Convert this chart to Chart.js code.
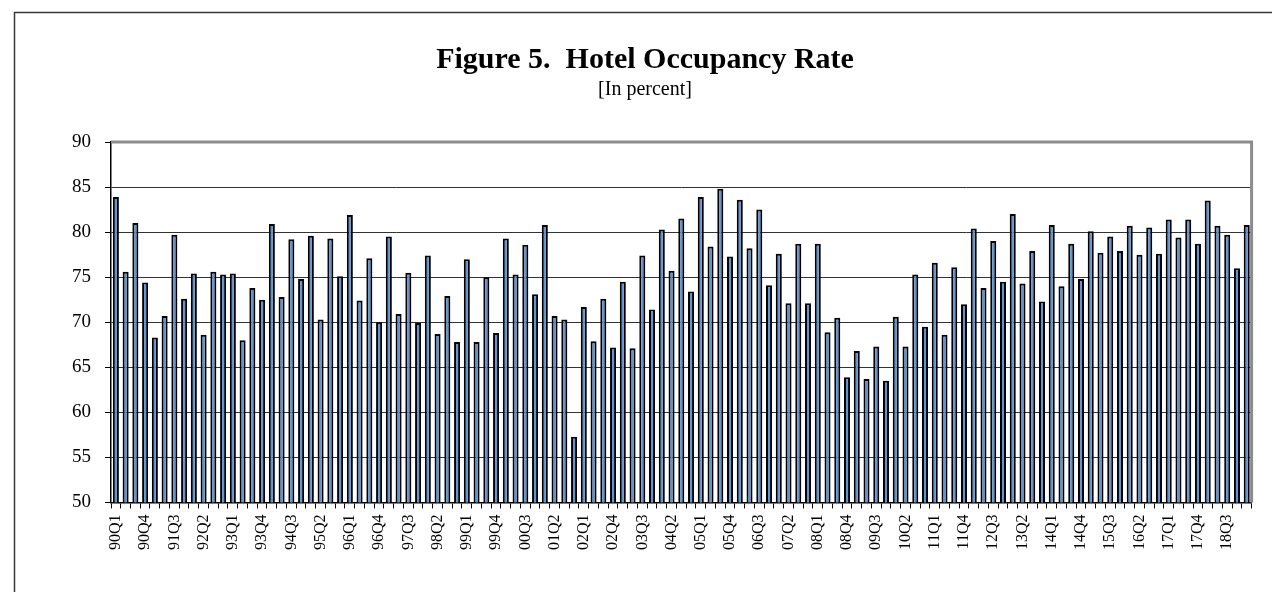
<!DOCTYPE html>
<html>
<head>
<meta charset="utf-8">
<script src="https://cdn.jsdelivr.net/npm/chart.js@4/dist/chart.umd.min.js"></script>
<style>
  html, body { margin: 0; padding: 0; background: #fff; }
  #wrap { width: 1272px; height: 592px; position: relative; }
</style>
</head>
<body>
<div id="wrap"><canvas id="chart" width="1272" height="592"></canvas></div>
<script>
// quarters 90Q1 .. 19Q1
const years = ['90','91','92','93','94','95','96','97','98','99','00','01','02','03','04',
  '05','06','07','08','09','10','11','12','13','14','15','16','17','18','19'];
const quarters = ['Q1','Q2','Q3','Q4'];

// hotel occupancy rate, percent
const occupancy = [
  83.9, 75.6, 81.0, 74.4, 68.3, 70.7, 79.7, 72.6, 75.4, 68.6,
  75.6, 75.3, 75.4, 68.0, 73.8, 72.5, 80.9, 72.8, 79.2, 74.8,
  79.6, 70.3, 79.3, 75.1, 81.9, 72.4, 77.1, 70.0, 79.5, 70.9,
  75.5, 69.9, 77.4, 68.7, 72.9, 67.8, 77.0, 67.8, 75.0, 68.8,
  79.3, 75.3, 78.6, 73.1, 80.8, 70.7, 70.3, 57.3, 71.7, 67.9,
  72.6, 67.2, 74.5, 67.1, 77.4, 71.4, 80.3, 75.7, 81.5, 73.4,
  83.9, 78.4, 84.8, 77.3, 83.6, 78.2, 82.5, 74.1, 77.6, 72.1,
  78.7, 72.1, 78.7, 68.9, 70.5, 63.9, 66.8, 63.7, 67.3, 63.5,
  70.6, 67.3, 75.3, 69.5, 76.6, 68.6, 76.1, 72.0, 80.4, 73.8,
  79.0, 74.5, 82.0, 74.3, 77.9, 72.3, 80.8, 74.0, 78.7, 74.8,
  80.1, 77.7, 79.5, 77.9, 80.7, 77.5, 80.5, 77.6, 81.4, 79.4,
  81.4, 78.7, 83.5, 80.7, 79.7, 76.0, 80.8
];

const labels = [];
years.forEach(y => quarters.forEach(q => labels.push(y + q)));
labels.length = occupancy.length;

const serif = "'Liberation Serif', 'Times New Roman', serif";

// outer frame and grey plot-area border
const frames = {
  id: 'frames',
  beforeDraw(chart) {
    const ctx = chart.ctx;
    ctx.save();
    ctx.fillStyle = '#fff';
    ctx.fillRect(0, 0, chart.width, chart.height);
    ctx.strokeStyle = '#3a3a3a';
    ctx.lineWidth = 1.5;
    ctx.beginPath();
    ctx.moveTo(14.5, chart.height);
    ctx.lineTo(14.5, 12.5);
    ctx.lineTo(chart.width, 12.5);
    ctx.stroke();
    ctx.restore();
  },
  afterDatasetsDraw(chart) {
    const { ctx, chartArea: a } = chart;
    ctx.save();
    ctx.strokeStyle = '#8c8c8c';
    ctx.lineWidth = 3;
    ctx.beginPath();
    ctx.moveTo(a.left, a.top);
    ctx.lineTo(a.right, a.top);
    ctx.lineTo(a.right, a.bottom);
    ctx.stroke();
    ctx.restore();
  }
};

new Chart(document.getElementById('chart'), {
  type: 'bar',
  data: {
    labels: labels,
    datasets: [{
      label: 'Hotel Occupancy Rate',
      data: occupancy,
      backgroundColor: '#5f93d2',
      borderColor: '#000',
      borderWidth: 2,
      barPercentage: 0.62,
      categoryPercentage: 1.0
    }]
  },
  options: {
    responsive: false,
    animation: false,
    layout: { padding: { left: 37, right: 19, top: 0, bottom: 36 } },
    plugins: {
      legend: { display: false },
      tooltip: { enabled: false },
      title: {
        display: true,
        text: 'Figure 5.  Hotel Occupancy Rate',
        color: '#000',
        font: { family: serif, size: 30, weight: 'bold' },
        padding: { top: 42, bottom: 0 }
      },
      subtitle: {
        display: true,
        text: '[In percent]',
        color: '#000',
        font: { family: serif, size: 20 },
        padding: { top: 0, bottom: 40 }
      }
    },
    scales: {
      x: {
        grid: {
          offset: true,
          drawOnChartArea: false,
          tickLength: 6,
          tickColor: '#000',
          tickWidth: 1
        },
        border: { color: '#000', width: 1.5 },
        ticks: {
          autoSkip: false,
          maxRotation: 90,
          minRotation: 90,
          padding: 6,
          color: '#000',
          font: { family: serif, size: 16 },
          callback: function(v, i) { return i % 3 === 0 ? this.getLabelForValue(v) : ''; }
        }
      },
      y: {
        min: 50,
        max: 90,
        afterFit: (s) => { s.width = 74; },
        grid: {
          color: (c) => c.tick && c.tick.value === 90 ? 'rgba(0,0,0,0)' : '#333',
          lineWidth: 1,
          tickLength: 6,
          tickColor: '#000'
        },
        border: { color: '#000', width: 1.5 },
        ticks: {
          stepSize: 5,
          padding: 14,
          color: '#000',
          font: { family: serif, size: 19 }
        }
      }
    }
  },
  plugins: [frames]
});
</script>
</body>
</html>
